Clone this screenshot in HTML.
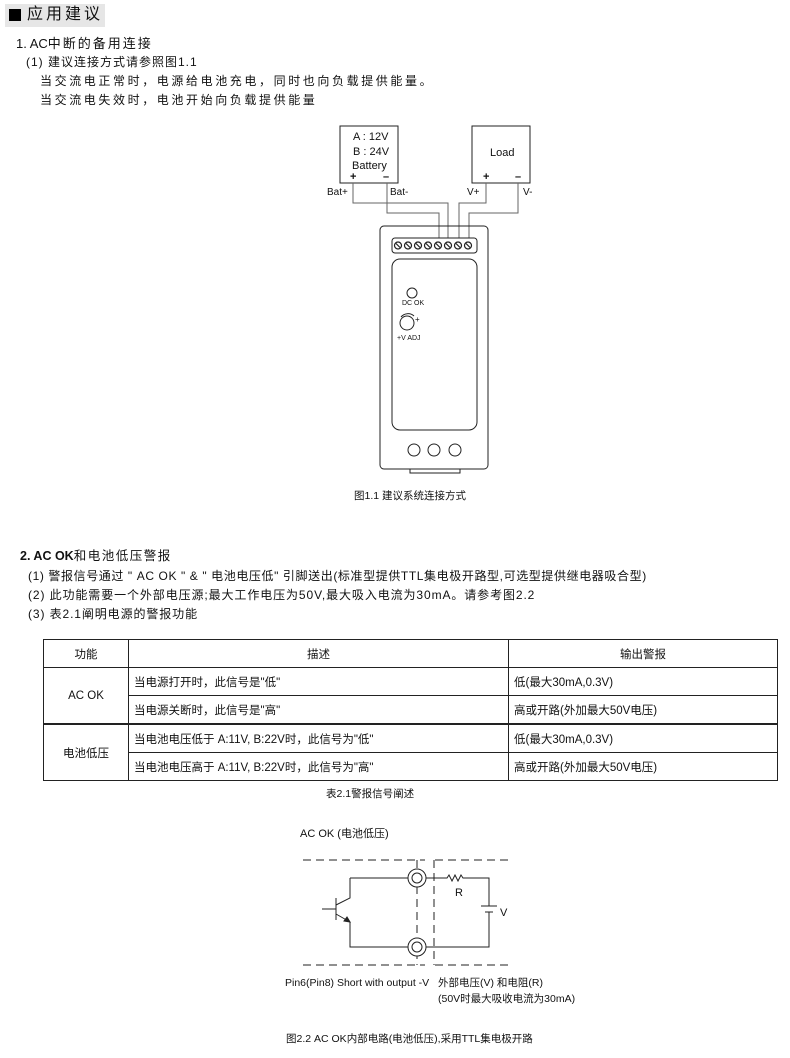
<!DOCTYPE html>
<html><head><meta charset="utf-8"><style>
body{margin:0;width:790px;height:1058px;background:#fff;position:relative;font-family:"Liberation Sans","Noto Sans CJK SC",sans-serif;color:#111;overflow:hidden}
.t{position:absolute;white-space:nowrap;font-size:12px;line-height:14px}
.b{font-weight:bold}
table{position:absolute;left:43px;top:639px;border-collapse:collapse;font-size:11.5px}
td{border:1px solid #222;padding:0 5px;height:27px}
</style></head><body>
<div style="position:absolute;left:5px;top:4px;width:100px;height:23px;background:#e6e6e6"></div>
<div style="position:absolute;left:9px;top:9px;width:12px;height:12px;background:#000"></div>
<div class="t" style="left:27px;top:6px;font-size:16px;line-height:18px;letter-spacing:3px">应用建议</div>
<div class="t" style="left:16px;top:37px;font-size:13px">1. AC<span style="letter-spacing:2px">中断的备用连接</span></div>
<div class="t" style="left:26px;top:55px;letter-spacing:1px">(1) 建议连接方式请参照图1.1</div>
<div class="t" style="left:40px;top:74px;letter-spacing:2.6px">当交流电正常时，电源给电池充电，同时也向负载提供能量。</div>
<div class="t" style="left:40px;top:93px;letter-spacing:2.6px">当交流电失效时，电池开始向负载提供能量</div>

<svg style="position:absolute;left:0;top:0" width="790" height="1058" font-family="Liberation Sans,sans-serif">
<g fill="none" stroke="#222" stroke-width="1">
<rect x="340" y="126" width="58" height="57"/>
<rect x="472" y="126" width="58" height="57"/>
<g stroke="#666">
<polyline points="353,183 353,203 448,203 448,238"/>
<polyline points="387,183 387,213 439,213 439,238"/>
<polyline points="486,183 486,203 459,203 459,238"/>
<polyline points="518,183 518,213 469,213 469,238"/>
</g>
<rect x="380" y="226" width="108" height="243" rx="4"/>
<rect x="392" y="238" width="85" height="15" rx="3"/>
<rect x="392" y="259" width="85" height="171" rx="8"/>
<circle cx="412" cy="293" r="5"/>
<circle cx="407" cy="323" r="7"/>
<path d="M401,317 A9,9 0 0 1 414,316"/>
<circle cx="414" cy="450" r="6"/><circle cx="434" cy="450" r="6"/><circle cx="455" cy="450" r="6"/>
<path d="M410,469 v4 h50 v-4"/>
</g>
<g fill="none" stroke="#222" stroke-width="1.2">
<circle cx="398" cy="245.5" r="3.5"/><circle cx="408" cy="245.5" r="3.5"/><circle cx="418" cy="245.5" r="3.5"/><circle cx="428" cy="245.5" r="3.5"/><circle cx="438" cy="245.5" r="3.5"/><circle cx="448" cy="245.5" r="3.5"/><circle cx="458" cy="245.5" r="3.5"/><circle cx="468" cy="245.5" r="3.5"/>
<path d="M396,243.5l4,4M406,243.5l4,4M416,243.5l4,4M426,243.5l4,4M436,243.5l4,4M446,243.5l4,4M456,243.5l4,4M466,243.5l4,4"/>
</g>
<g font-size="11" fill="#111">
<text x="353" y="140">A : 12V</text><text x="353" y="155">B : 24V</text><text x="352" y="169">Battery</text>
<text x="490" y="156">Load</text>
<text x="350" y="180" font-weight="bold">+</text><text x="383" y="180" font-weight="bold">–</text>
<text x="483" y="180" font-weight="bold">+</text><text x="515" y="180" font-weight="bold">–</text>
<text x="327" y="195" font-size="10">Bat+</text><text x="390" y="195" font-size="10">Bat-</text>
<text x="467" y="195" font-size="10">V+</text><text x="523" y="195" font-size="10">V-</text>
<text x="402" y="305" font-size="7">DC OK</text>
<text x="415" y="322" font-size="8">+</text>
<text x="397" y="340" font-size="7">+V ADJ</text>
</g>

<g fill="none" stroke="#222" stroke-width="1">
<path d="M303,860 H425 M435,860 H510 M303,965 H425 M435,965 H510 M417,860 V965 M434,860 V965" stroke-dasharray="8,5"/>
<circle cx="417" cy="878" r="9" fill="#fff"/><circle cx="417" cy="878" r="5"/>
<circle cx="417" cy="947" r="9" fill="#fff"/><circle cx="417" cy="947" r="5"/>
<path d="M350,878 H408 M426,878 H447 l2,-3 3,6 3,-6 3,6 3,-6 2,3 H489 V906 M481,906 H497 M485,912 H493 M489,912 V947 H426 M408,947 H350 V922 M350,878 V898 L336,905 M336,914 L350,922 M336,898 V920 M322,909 H336"/>
<path d="M350,922 l-6,-1 3,-4z" fill="#222"/>
</g>
<g font-size="11" fill="#111">
<text x="300" y="837">AC OK (电池低压)</text>
<text x="455" y="896">R</text><text x="500" y="916">V</text>
<text x="285" y="986" font-size="10.5">Pin6(Pin8) Short with output -V</text>
<text x="438" y="986" font-size="10.5">外部电压(V) 和电阻(R)</text>
<text x="438" y="1002" font-size="10.5">(50V时最大吸收电流为30mA)</text>
<text x="354" y="499" font-size="10.5">图1.1  建议系统连接方式</text>
<text x="326" y="797" font-size="10.5">表2.1警报信号阐述</text>
<text x="286" y="1042" font-size="10.5">图2.2  AC OK内部电路(电池低压),采用TTL集电极开路</text>
</g>
</svg>

<div class="t b" style="left:20px;top:549px;font-size:12.5px">2. AC OK<span style="font-weight:normal;letter-spacing:1.5px">和电池低压警报</span></div>
<div class="t" style="left:28px;top:569px;letter-spacing:0.6px">(1) 警报信号通过 " AC OK " &amp; " 电池电压低" 引脚送出(标准型提供TTL集电极开路型,可选型提供继电器吸合型)</div>
<div class="t" style="left:28px;top:588px;letter-spacing:0.9px">(2) 此功能需要一个外部电压源;最大工作电压为50V,最大吸入电流为30mA。请参考图2.2</div>
<div class="t" style="left:28px;top:607px;letter-spacing:0.9px">(3) 表2.1阐明电源的警报功能</div>

<table>
<tr><td style="width:74px;height:17px;text-align:center">功能</td><td style="width:369px;text-align:center">描述</td><td style="width:258px;text-align:center">输出警报</td></tr>
<tr><td rowspan="2" style="text-align:center">AC OK</td><td>当电源打开时，此信号是"低"</td><td>低(最大30mA,0.3V)</td></tr>
<tr><td>当电源关断时，此信号是"高"</td><td>高或开路(外加最大50V电压)</td></tr>
<tr><td rowspan="2" style="text-align:center;border-top:2px solid #222">电池低压</td><td style="border-top:2px solid #222">当电池电压低于 A:11V, B:22V时，此信号为"低"</td><td style="border-top:2px solid #222">低(最大30mA,0.3V)</td></tr>
<tr><td>当电池电压高于 A:11V, B:22V时，此信号为"高"</td><td>高或开路(外加最大50V电压)</td></tr>
</table>
</body></html>
